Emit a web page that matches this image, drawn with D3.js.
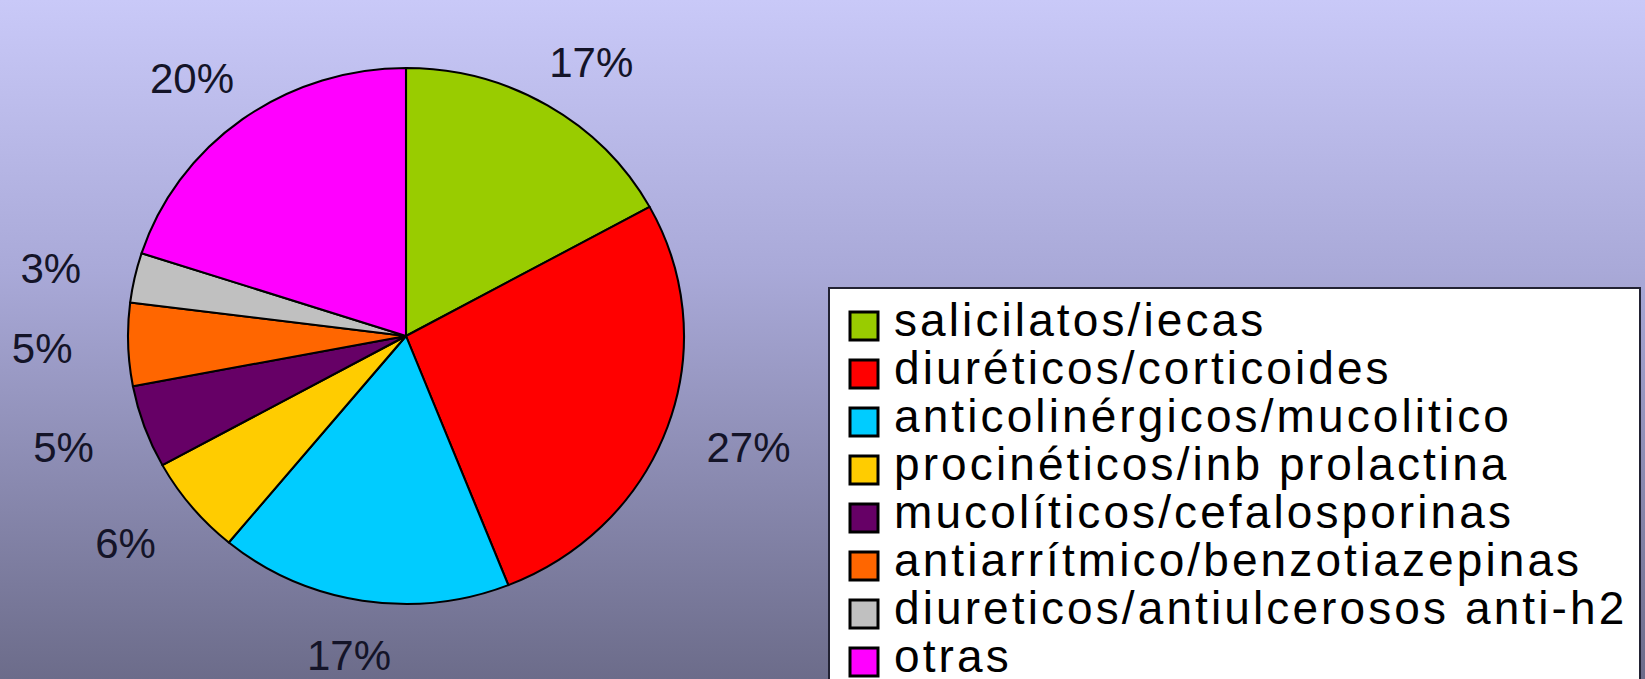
<!DOCTYPE html>
<html>
<head>
<meta charset="utf-8">
<script src="https://cdn.jsdelivr.net/npm/d3@7"></script>
<style>
  body { margin: 0; padding: 0; overflow: hidden; }
  svg { display: block; }
</style>
</head>
<body>
<script>
// chart data
var categories = [
    "salicilatos/iecas",
    "diuréticos/corticoides",
    "anticolinérgicos/mucolitico",
    "procinéticos/inb prolactina",
    "mucolíticos/cefalosporinas",
    "antiarrítmico/benzotiazepinas",
    "diureticos/antiulcerosos anti-h2",
    "otras"
];
var values = [17, 27, 17, 6, 5, 5, 3, 20];
var colors = ["#99cc00", "#ff0000", "#00ccff", "#ffcc00", "#660066", "#ff6600", "#c0c0c0", "#ff00ff"];

var width  = 1645;
var height = 679;

var pieCenter = {x: 406, y: 336};
var radius = 268;
var stretchX = 278 / 268;   // pie is a bit wider than tall
var labelRx = 364, labelRy = 321, labelShift = 2;

var svg = d3.select("body").append("svg")
    .attr("width", width)
    .attr("height", height);

// background gradient
var grad = svg.append("defs").append("linearGradient")
    .attr("id", "bg")
    .attr("x1", 0).attr("y1", 0).attr("x2", 0).attr("y2", 1);
grad.append("stop").attr("offset", "0%").attr("stop-color", "#c9c9f8");
grad.append("stop").attr("offset", "40%").attr("stop-color", "#a9a9d8");
grad.append("stop").attr("offset", "100%").attr("stop-color", "#6c6c8a");

svg.append("rect")
    .attr("width", width)
    .attr("height", height)
    .attr("fill", "url(#bg)");

/////////////////////
// Paint the Pie   //
/////////////////////
var pie = d3.pie().sort(null).value(function(d) { return d; });
var arcs = pie(values);

var arc = d3.arc().innerRadius(0).outerRadius(radius);

var g = svg.append("g")
    .attr("transform", "translate(" + pieCenter.x + "," + pieCenter.y + ") scale(" + stretchX + ",1)");

g.selectAll("path")
    .data(arcs)
    .enter().append("path")
    .attr("d", arc)
    .attr("fill", function(d, i) { return colors[i]; })
    .attr("stroke", "#000")
    .attr("stroke-width", 2)
    .attr("stroke-linejoin", "round");

// percentage labels outside the slices
var total = d3.sum(values);
svg.selectAll("text.pct")
    .data(arcs)
    .enter().append("text")
    .attr("class", "pct")
    .attr("x", function(d) {
        var a = (d.startAngle + d.endAngle) / 2;
        return pieCenter.x + labelRx * Math.sin(a);
    })
    .attr("y", function(d) {
        var a = (d.startAngle + d.endAngle) / 2;
        return pieCenter.y - labelRy * Math.cos(a) + labelShift;
    })
    .attr("text-anchor", "middle")
    .attr("dy", "0.36em")
    .style("font-family", "'Liberation Sans', Arial, sans-serif")
    .style("font-size", "42px")
    .attr("fill", "#141428")
    .text(function(d) { return Math.round(d.value / total * 100) + "%"; });

/////////////////////
// Legend          //
/////////////////////
var legend = svg.append("g").attr("transform", "translate(829,288)");

legend.append("rect")
    .attr("width", 811)
    .attr("height", 420)
    .attr("fill", "#ffffff")
    .attr("stroke", "#222233")
    .attr("stroke-width", 2);

var rowH = 48;
var item = legend.selectAll("g.item")
    .data(categories)
    .enter().append("g")
    .attr("class", "item")
    .attr("transform", function(d, i) { return "translate(0," + (48 + i * rowH) + ")"; });

item.append("rect")
    .attr("x", 21)
    .attr("y", -24)
    .attr("width", 28)
    .attr("height", 28)
    .attr("fill", function(d, i) { return colors[i]; })
    .attr("stroke", "#000")
    .attr("stroke-width", 3);

item.append("text")
    .attr("x", 65)
    .attr("y", 0)
    .style("font-family", "'Liberation Sans', Arial, sans-serif")
    .style("font-size", "46px")
    .style("letter-spacing", "3.1px")
    .attr("fill", "#000")
    .text(function(d) { return d; });
</script>
</body>
</html>
